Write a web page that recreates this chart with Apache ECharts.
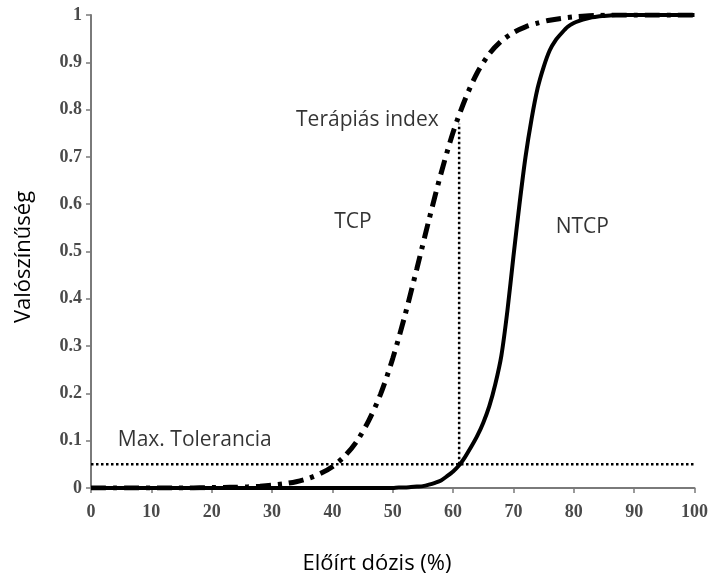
<!DOCTYPE html>
<html><head><meta charset="utf-8">
<script src="https://cdn.jsdelivr.net/npm/echarts@6/dist/echarts.min.js"></script>
<style>html,body{margin:0;padding:0;background:#fff}#c{width:711px;height:580px}</style>
</head><body><div id="c"></div>
<script>
// Dose axis (%)
const tcpDose = [0,2,4,6,8,10,12,14,16,18,20,22,24,26,28,30,32,34,36,38,40,42,44,46,48,50,52,54,56,58,60,62,64,66,68,70,72,74,76,78,80,82,84,86,88,90,92,94,96,98,100];
const tcpProb = [0,0,0,0,0,0,0,0,0,0.0005,0.0008,0.0011,0.0017,0.0026,0.0039,0.0059,0.0089,0.0133,0.0202,0.0305,0.045,0.067,0.098,0.142,0.199,0.274,0.364,0.464,0.567,0.665,0.752,0.822,0.878,0.918,0.945,0.963,0.975,0.983,0.989,0.993,0.996,0.998,0.999,1,1,1,1,1,1,1,1];
const ntcpDose = [0,10,20,30,40,50,51,52,53,54,55,56,57,58,59,60,61,62,63,64,65,66,67,68,69,70,71,72,73,74,75,76,77,78,79,80,81,82,83,84,85,86,87,90,95,100];
const ntcpProb = [0,0,0,0,0,0,0.001,0.001,0.002,0.003,0.004,0.007,0.011,0.016,0.025,0.035,0.048,0.066,0.087,0.11,0.138,0.173,0.22,0.28,0.375,0.49,0.60,0.70,0.78,0.845,0.89,0.925,0.947,0.962,0.975,0.983,0.988,0.992,0.995,0.997,0.998,0.999,1,1,1,1];
const tolDose = [0, 100];
const tolProb = [0.05, 0.05];
const idxDose = [61, 61];
const idxProb = [0.05, 0.77];
const notes = [
  {text:'Terápiás index', x:45.8, y:0.777},
  {text:'TCP', x:43.4, y:0.562},
  {text:'NTCP', x:81.4, y:0.552},
  {text:'Max. Tolerancia', x:17.2, y:0.101}
];
const xTitle = 'Előírt dózis (%)';
const yTitle = 'Valószínűség';

const pair = (xs, ys) => xs.map((v, i) => [v, ys[i]]);
const axisCol = '#7a7a7a';
const tickFont = {fontFamily:'Liberation Serif', fontWeight:'bold', fontSize:18, color:'#4a4a4a'};
const noteFont = 'Open Sans';

const chart = echarts.init(document.getElementById('c'), null, {renderer:'canvas'});
chart.setOption({
  animation:false,
  backgroundColor:'#fff',
  grid:{left:91, right:14, top:15, bottom:92, containLabel:false},
  xAxis:{type:'value', min:0, max:100, interval:10,
    axisLine:{show:true, lineStyle:{color:axisCol, width:2}},
    axisTick:{show:true, length:5, lineStyle:{color:axisCol, width:1.5}},
    splitLine:{show:false},
    axisLabel:Object.assign({margin:15}, tickFont)},
  yAxis:{type:'value', min:0, max:1, interval:0.1,
    axisLine:{show:true, lineStyle:{color:axisCol, width:2}},
    axisTick:{show:true, length:5, lineStyle:{color:axisCol, width:1.5}},
    splitLine:{show:false},
    axisLabel:Object.assign({margin:9}, tickFont)},
  graphic:[
    {type:'text', x:377, y:564, style:{text:xTitle, fontFamily:noteFont, fontSize:22, fill:'#000', align:'center', verticalAlign:'middle'}},
    {type:'text', x:24, y:257, rotation:Math.PI/2, style:{text:yTitle, fontFamily:noteFont, fontSize:22, fill:'#000', align:'center', verticalAlign:'middle'}}
  ],
  series:[
    {type:'line', data:pair(ntcpDose, ntcpProb), showSymbol:false, symbol:'none', smooth:0.25,
      lineStyle:{color:'#000', width:4}, z:3},
    {type:'line', data:pair(tcpDose, tcpProb), showSymbol:false, symbol:'none', smooth:0.3,
      lineStyle:{color:'#000', width:5, type:[15,7,4,7]}, z:4},
    {type:'line', data:pair(tolDose, tolProb), showSymbol:false, symbol:'none',
      lineStyle:{color:'#000', width:2.5, type:[2.5,2.5]}, z:2},
    {type:'line', data:pair(idxDose, idxProb), showSymbol:false, symbol:'none',
      lineStyle:{color:'#000', width:2.5, type:[2.5,2.5]}, z:2},
    {type:'scatter', symbolSize:0, silent:true, z:5,
      data:notes.map(n => ({value:[n.x, n.y], name:n.text})),
      label:{show:true, position:'inside', formatter:p => p.name, fontFamily:noteFont, fontSize:21, color:'#000'}}
  ]
});
</script></body></html>
